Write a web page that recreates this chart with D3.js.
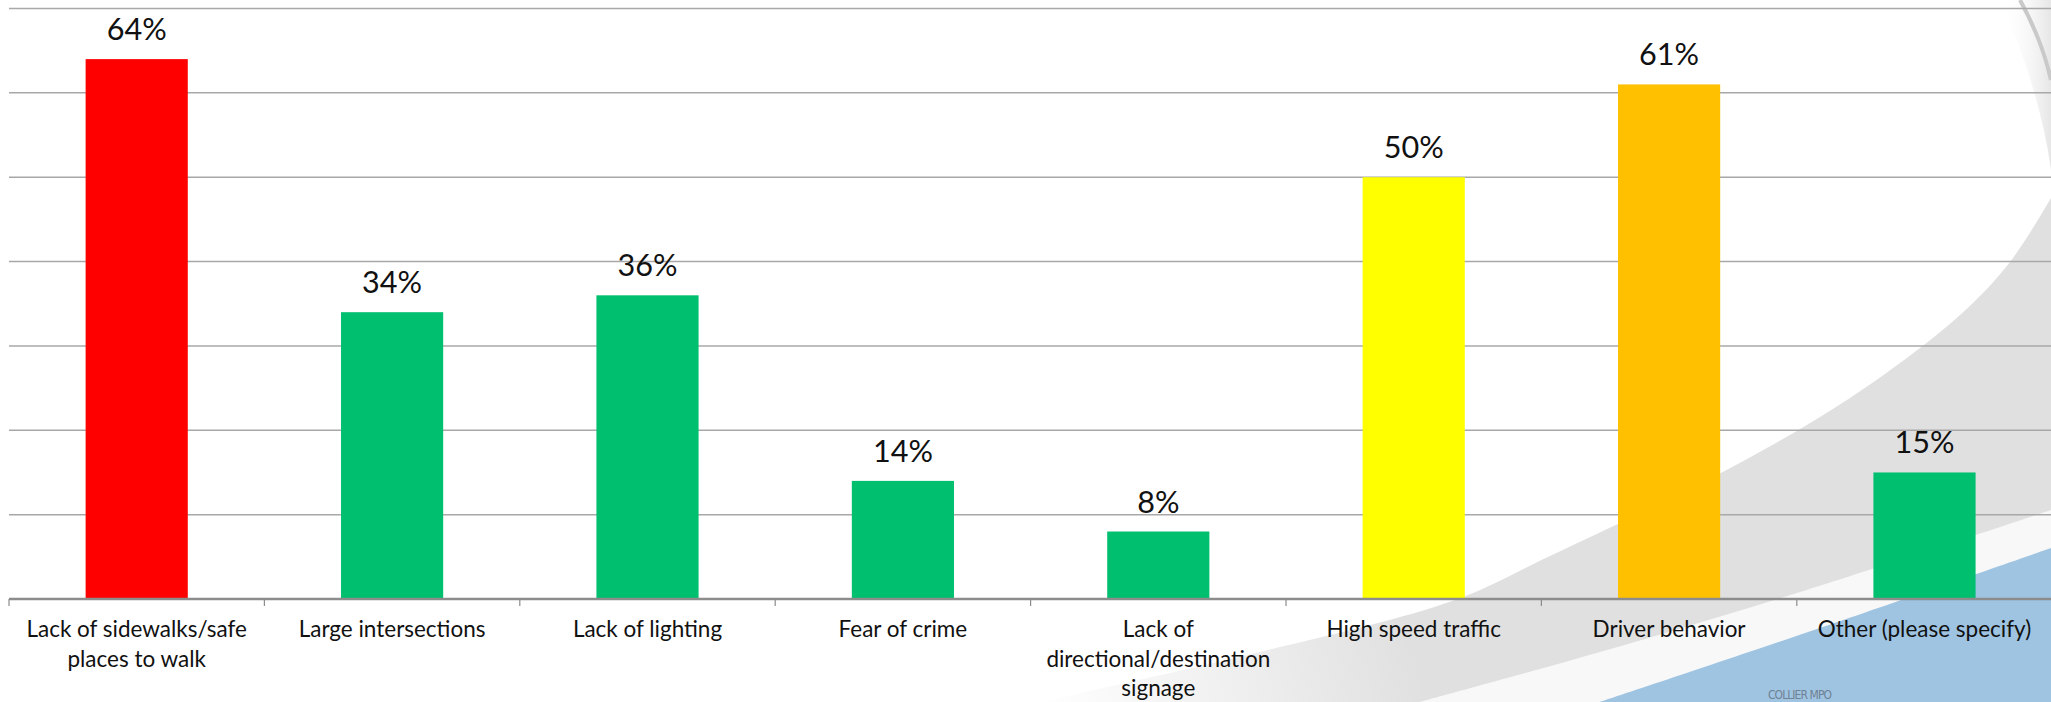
<!DOCTYPE html>
<html>
<head>
<meta charset="utf-8">
<script src="https://cdn.jsdelivr.net/npm/d3@7"></script>
<style>
  html, body { margin: 0; padding: 0; background: #fff; overflow: hidden; }
  svg { display: block; }
</style>
</head>
<body>
<script>
// chart data
var categories = ["Lack of sidewalks/safe places to walk", "Large intersections", "Lack of lighting",
  "Fear of crime", "Lack of directional/destination signage", "High speed traffic",
  "Driver behavior", "Other (please specify)"];
var values = [64, 34, 36, 14, 8, 50, 61, 15];
var yTicks = [0, 10, 20, 30, 40, 50, 60, 70];

var palette = ["#ff0000", "#00bf6f", "#00bf6f", "#00bf6f", "#00bf6f", "#ffff00", "#ffc000", "#00bf6f"];

var width = 2051,
    height = 702;

var svg = d3.select("body").append("svg")
    .attr("width", width)
    .attr("height", height)
    .style("font-family", "Lato, 'Open Sans', sans-serif");

// pick a font size so that a sample string comes out at the wanted width
function fitSize(sample, target) {
    var t = svg.append("text").attr("font-size", 100).text(sample);
    var w = t.node().getComputedTextLength();
    t.remove();
    return 100 * target / w;
}
var valueSize = fitSize("64%", 60);
var catSize = fitSize("Driver behavior", 153);

/* slide background: grey swoosh + blue wave on the right */
var defs = svg.append("defs");
var grad = defs.append("linearGradient")
    .attr("id", "greyfade")
    .attr("gradientUnits", "userSpaceOnUse")
    .attr("x1", 1040).attr("y1", 702).attr("x2", 1400).attr("y2", 600);
grad.append("stop").attr("offset", 0).attr("stop-color", "#ffffff");
grad.append("stop").attr("offset", 1).attr("stop-color", "#e0e0e0");

var shade = defs.append("linearGradient")
    .attr("id", "topshade")
    .attr("x1", 0).attr("y1", 0).attr("x2", 1).attr("y2", 0);
shade.append("stop").attr("offset", 0).attr("stop-color", "#ffffff").attr("stop-opacity", 0);
shade.append("stop").attr("offset", 1).attr("stop-color", "#e6e6e6").attr("stop-opacity", 1);

var bg = svg.append("g").attr("class", "bg");
var curve = d3.line().curve(d3.curveCatmullRom);

// faint shadow at the top right corner
bg.append("path")
    .attr("d", "M2000,0 Q2040,90 2051,170 L2051,0Z")
    .attr("fill", "url(#topshade)");
bg.append("path")
    .attr("d", "M2020,0 Q2042,40 2051,80")
    .attr("fill", "none")
    .attr("stroke", "#c9c9c9")
    .attr("stroke-width", 4);

var greyEdge = [[1040, 702], [1260, 652], [1455, 600], [1550, 556], [1717, 475], [1850, 398], [1960, 315], [2010, 262], [2051, 198]];
bg.append("path")
    .attr("d", curve(greyEdge) + "L2051,702Z")
    .attr("fill", "url(#greyfade)");

var whiteEdge = [[1420, 702], [1600, 652], [1800, 592], [2051, 510]];
bg.append("path")
    .attr("d", curve(whiteEdge) + "L2051,702Z")
    .attr("fill", "#f8f8f8");

var blueEdge = [[1600, 702], [1817, 629], [2051, 548]];
bg.append("path")
    .attr("d", curve(blueEdge) + "L2051,702Z")
    .attr("fill", "#9fc4e2");

bg.append("text")
    .attr("x", 1800)
    .attr("y", 699)
    .attr("text-anchor", "middle")
    .attr("font-family", "'DejaVu Sans Condensed', 'Liberation Sans Narrow', sans-serif")
    .attr("font-size", 12)
    .attr("textLength", 64)
    .attr("fill", "#6f8192")
    .text("COLLIER MPO");

/* scales */
var x = d3.scaleBand()
    .domain(categories)
    .range([9, 9 + 8 * 255.4])
    .paddingInner(0.6)
    .paddingOuter(0.3);

var y = d3.scaleLinear()
    .domain([0, 70])
    .range([599, 8.5]);

// gridlines
svg.append("g").selectAll("line")
    .data(yTicks.slice(1))
    .enter().append("line")
    .attr("x1", 9)
    .attr("x2", width)
    .attr("y1", function(d) { return y(d) })
    .attr("y2", function(d) { return y(d) })
    .attr("stroke", "#a8a8a8")
    .attr("stroke-width", 1.5);

// bars
svg.append("g").selectAll("rect")
    .data(values)
    .enter().append("rect")
    .attr("x", function(d, i) { return x(categories[i]) })
    .attr("y", function(d) { return y(d) })
    .attr("width", x.bandwidth())
    .attr("height", function(d) { return y(0) - y(d) })
    .attr("fill", function(d, i) { return palette[i] });

// value labels
svg.append("g").selectAll("text")
    .data(values)
    .enter().append("text")
    .attr("x", function(d, i) { return x(categories[i]) + x.bandwidth() / 2 })
    .attr("y", function(d) { return y(d) - 19 })
    .attr("text-anchor", "middle")
    .attr("font-size", valueSize)
    .attr("fill", "#111")
    .text(function(d) { return d + "%" });

// x axis, ticks on category boundaries
var step = x.step();
var bounds = d3.range(categories.length + 1).map(function(i) { return x(categories[0]) - step * 0.3 + i * step });

var axis = svg.append("g");
axis.append("line")
    .attr("x1", 9).attr("x2", width)
    .attr("y1", y(0)).attr("y2", y(0))
    .attr("stroke", "#8c8c8c")
    .attr("stroke-width", 2.5);
axis.selectAll(".tick")
    .data(bounds)
    .enter().append("line")
    .attr("class", "tick")
    .attr("x1", function(d) { return d }).attr("x2", function(d) { return d })
    .attr("y1", y(0)).attr("y2", y(0) + 7)
    .attr("stroke", "#8c8c8c")
    .attr("stroke-width", 1.2);

// category labels, wrapped to the slot width
var labels = axis.selectAll(".cat")
    .data(categories)
    .enter().append("text")
    .attr("class", "cat")
    .attr("text-anchor", "middle")
    .attr("font-size", catSize)
    .attr("fill", "#111");

labels.each(function(d) {
    var t = d3.select(this),
        cx = x(d) + x.bandwidth() / 2,
        words = d.split(" "),
        lines = [],
        line = "";
    words.forEach(function(w) {
        var test = line ? line + " " + w : w;
        t.text(test);
        if (line && this.getComputedTextLength() > 240) {
            lines.push(line);
            line = w;
        } else {
            line = test;
        }
    }, this);
    lines.push(line);
    t.text(null);
    lines.forEach(function(l, k) {
        t.append("tspan")
            .attr("x", cx)
            .attr("y", 637 + k * 29.5)
            .text(l);
    });
});
</script>
</body>
</html>
